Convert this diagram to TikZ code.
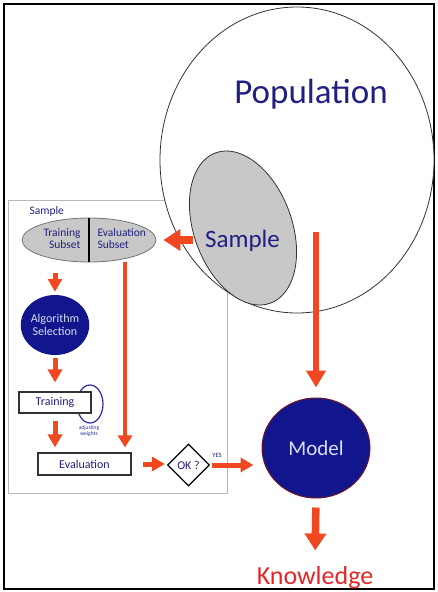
\documentclass[tikz,border=0pt]{standalone}
\usepackage{fontspec}
\setmainfont{Carlito}
\usepackage{xcolor}
\usepackage{tikz}
\usetikzlibrary{shapes,arrows.meta,positioning}
\definecolor{popblue}{RGB}{32,32,130}
\definecolor{discblue}{RGB}{18,22,140}
\definecolor{discfont}{RGB}{215,222,245}
\definecolor{arrowred}{RGB}{240,72,32}
\definecolor{knowred}{RGB}{228,38,38}
\definecolor{ellgray}{RGB}{200,200,200}
\definecolor{loopblue}{RGB}{40,40,170}
\definecolor{modelrim}{RGB}{110,20,40}
\tikzset{
    every node/.style={font=\fontsize{12}{12.5}\selectfont, text=popblue}
}

\begin{document}
\begin{tikzpicture}[x=1pt,y=-1pt]
            % Define styles for boxes, discs and arrows
            \tikzstyle{bigarrow} = [draw=arrowred, line width=7.5pt,
                -{Triangle[width=21pt,length=17pt]}]
            \tikzstyle{midarrow} = [draw=arrowred, line width=6pt,
                -{Triangle[width=19pt,length=17pt]}]
            \tikzstyle{smallarrow} = [draw=arrowred, line width=5pt,
                -{Triangle[width=14pt,length=13pt]}]
            \tikzstyle{droparrow} = [draw=arrowred, line width=4.5pt,
                -{Triangle[width=14pt,length=12pt]}]
            \tikzstyle{stepbox} = [rectangle, draw=black!80, line width=1.1pt,
                fill=white, inner sep=0pt]
            \tikzstyle{bluedisc} = [ellipse, fill=discblue, inner sep=0pt,
                text=discfont, align=center]
            \useasboundingbox (0,0) rectangle (437,592);

            % Draw outer frame
            \draw[line width=2pt] (4,4) rectangle (434,589);

            % Draw sample panel
            \node[draw=black!28, line width=1pt, minimum width=219pt,
                minimum height=293pt, inner sep=0pt] (samplebox) at (117.5,346.5) {};
            \node[anchor=west, font=\fontsize{11.5}{12}\selectfont] (paneltitle)
                at (26,211) {Sample};

            % Draw population and drawn sample
            \node[ellipse, draw=black!80, line width=0.8pt, fill=white,
                minimum width=274pt, minimum height=306pt] (pop) at (297,160) {};
            \node[anchor=base, font=\fontsize{35}{38}\selectfont] (poptxt)
                at (311,103) {Population};
            \node[ellipse, draw=black!80, line width=0.8pt, fill=ellgray,
                minimum width=98pt, minimum height=160pt, rotate=20] (samp) at (243,228) {};
            \node[anchor=base, font=\fontsize{25}{27}\selectfont] (samptxt)
                at (242.5,247) {Sample};

            % Draw split into subsets
            \node[ellipse, draw=black!55, line width=0.8pt, fill=ellgray,
                minimum width=134pt, minimum height=44pt] (split) at (89,240) {};
            \draw[line width=1.2pt] (split.north) -- (split.south);
            \node[anchor=east, align=right, font=\fontsize{11.5}{12}\selectfont]
                (trsub) at (84,239) {Training\\Subset};
            \node[anchor=west, align=left, font=\fontsize{11.5}{12}\selectfont]
                (evsub) at (94,239) {Evaluation\\Subset};

            % Draw learning steps
            \node[bluedisc, minimum size=60pt] (alg) at (55,325) {Algorithm\\Selection};
            \draw[loopblue, line width=1.2pt] (90,404) ellipse [x radius=13, y radius=19];
            \node[stepbox, minimum width=72pt, minimum height=21pt] (train)
                at (55,402.5) {Training};
            \node[text=loopblue, align=center, font=\fontsize{5.5}{6}\selectfont]
                (adjust) at (89,431) {adjusting\\weights};
            \node[stepbox, minimum width=93pt, minimum height=22pt] (eval)
                at (84.5,464) {Evaluation};
            \node[diamond, draw, line width=1.3pt, fill=white, minimum width=42pt,
                minimum height=42pt, inner sep=0pt] (ok) at (188.5,465) {OK ?};
            \node[font=\fontsize{6.5}{7}\selectfont] (yes) at (217,455) {YES};

            % Draw model and knowledge
            \node[bluedisc, draw=modelrim, line width=1pt, minimum width=108pt,
                minimum height=100pt, font=\fontsize{21}{23}\selectfont] (model)
                at (316,448) {Model};
            \node[anchor=base, text=knowred, font=\fontsize{26}{28}\selectfont] (know)
                at (315,584) {Knowledge};

            % Draw flow arrows
            \coordinate (evdrop) at (125,262);
            \coordinate (popdrop) at (316,232);
            \draw[bigarrow, shorten >=7pt] ([xshift=37pt]split.east) -- (split.east);
            \draw[smallarrow, shorten <=11pt, shorten >=3pt] (split.south -| alg.north) -- (alg.north);
            \draw[smallarrow, shorten <=3pt, shorten >=9pt] (alg.south) -- (train.north);
            \draw[smallarrow, shorten <=7pt, shorten >=5pt] (train.south) -- (train.south |- eval.north);
            \draw[droparrow, shorten >=5pt] (evdrop) -- (evdrop |- eval.north);
            \draw[smallarrow, shorten <=11pt, shorten >=2pt] (eval.east) -- (eval.east -| ok.west);
            \draw[smallarrow, shorten <=2pt, shorten >=8pt] (ok.east) -- (ok.east -| model.west);
            \draw[midarrow, shorten >=10pt] (popdrop) -- (model.north);
            \draw[bigarrow, shorten <=9pt, shorten >=12pt] (model.south) -- (know.north);
\end{tikzpicture}
\end{document}
